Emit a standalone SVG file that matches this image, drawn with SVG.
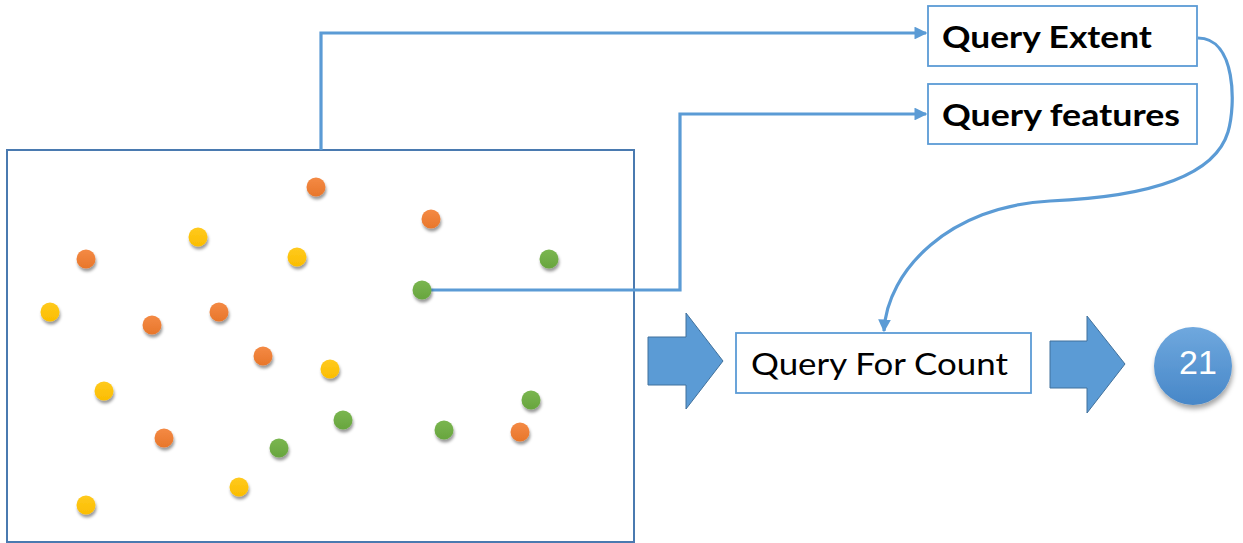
<svg xmlns="http://www.w3.org/2000/svg" width="1243" height="543" viewBox="0 0 1243 543">
  <style>
    .frame { fill: #ffffff; stroke: #4a7ab0; stroke-width: 2; }
    .box { fill: #ffffff; stroke: #5b9bd5; stroke-width: 1.8; }
    .label { font-family: Lato, "Liberation Sans", sans-serif; font-size: 30px; fill: #000000; }
    .bold { font-weight: bold; }
    .link { fill: none; stroke: #5b9bd5; stroke-width: 3.2; }
    .block { fill: #5b9bd5; stroke: #41719c; stroke-width: 1; }
    .dot { filter: url(#dotShadow); }
    .o { fill: url(#gOrange); }
    .y { fill: url(#gYellow); }
    .g { fill: url(#gGreen); }
  </style>
  <defs>
    <linearGradient id="gOrange" x1="0" y1="0" x2="0" y2="1">
      <stop offset="0" stop-color="#f48a45"/>
      <stop offset="1" stop-color="#e8762a"/>
    </linearGradient>
    <linearGradient id="gYellow" x1="0" y1="0" x2="0" y2="1">
      <stop offset="0" stop-color="#ffca1e"/>
      <stop offset="1" stop-color="#fbbd00"/>
    </linearGradient>
    <linearGradient id="gGreen" x1="0" y1="0" x2="0" y2="1">
      <stop offset="0" stop-color="#7ab650"/>
      <stop offset="1" stop-color="#68a53e"/>
    </linearGradient>
    <linearGradient id="gBall" x1="0" y1="0" x2="0" y2="1">
      <stop offset="0" stop-color="#6fa8de"/>
      <stop offset="1" stop-color="#4787c8"/>
    </linearGradient>
    <filter id="dotShadow" x="-50%" y="-50%" width="200%" height="200%">
      <feDropShadow dx="1" dy="3" stdDeviation="1.6" flood-color="#000000" flood-opacity="0.4"/>
    </filter>
    <filter id="ballShadow" x="-30%" y="-30%" width="160%" height="160%">
      <feDropShadow dx="1" dy="4" stdDeviation="2.5" flood-color="#000000" flood-opacity="0.35"/>
    </filter>
    <marker id="head" viewBox="0 0 10 10" refX="9" refY="5" markerWidth="4" markerHeight="4" orient="auto" markerUnits="strokeWidth">
      <path d="M0,0 L10,5 L0,10 Z" fill="#5b9bd5"/>
    </marker>
  </defs>

  <!-- map area with the point features -->
  <g id="map">
    <rect class="frame" x="7" y="150" width="627" height="392"/>
    <g id="points">
      <circle class="dot o" cx="316" cy="187" r="9.5"/>
      <circle class="dot o" cx="431" cy="219" r="9.5"/>
      <circle class="dot o" cx="86" cy="259" r="9.5"/>
      <circle class="dot o" cx="152" cy="325" r="9.5"/>
      <circle class="dot o" cx="219" cy="312" r="9.5"/>
      <circle class="dot o" cx="263" cy="356" r="9.5"/>
      <circle class="dot o" cx="164" cy="438" r="9.5"/>
      <circle class="dot o" cx="520" cy="432" r="9.5"/>
      <circle class="dot y" cx="198" cy="237" r="9.5"/>
      <circle class="dot y" cx="297" cy="257" r="9.5"/>
      <circle class="dot y" cx="50" cy="312" r="9.5"/>
      <circle class="dot y" cx="104" cy="391" r="9.5"/>
      <circle class="dot y" cx="330" cy="369" r="9.5"/>
      <circle class="dot y" cx="239" cy="487" r="9.5"/>
      <circle class="dot y" cx="86" cy="505" r="9.5"/>
      <circle class="dot g" cx="549" cy="259" r="9.5"/>
      <circle class="dot g" cx="531" cy="400" r="9.5"/>
      <circle class="dot g" cx="343" cy="420" r="9.5"/>
      <circle class="dot g" cx="444" cy="430" r="9.5"/>
      <circle class="dot g" cx="279" cy="448" r="9.5"/>
    </g>
  </g>

  <g id="connectors">
    <path class="link" d="M321,150 V33 H926" marker-end="url(#head)"/>
    <path class="link" d="M431,290 H680 V114 H926" marker-end="url(#head)"/>
    <path class="link" d="M1198,38 C1236,38 1236,105 1228,132 C1212,185 1120,198 1050,201 C950,206 887,270 884,331" marker-end="url(#head)"/>
  </g>

  <!-- green point joined to the features query (drawn above the line) -->
  <g id="selected-point">
    <circle class="dot g" cx="422" cy="290" r="9.5"/>
  </g>

  <g id="query-extent">
    <rect class="box" x="928" y="6" width="269" height="60"/>
    <text class="label bold" x="942" y="48" textLength="210" lengthAdjust="spacingAndGlyphs">Query Extent</text>
  </g>

  <g id="query-features">
    <rect class="box" x="928" y="84" width="269" height="60"/>
    <text class="label bold" x="942" y="126" textLength="238" lengthAdjust="spacingAndGlyphs">Query features</text>
  </g>

  <g id="arrow-in">
    <path class="block" d="M648,337 H686 V313 L723,361 L686,409 V385 H648 Z"/>
  </g>

  <g id="query-count">
    <rect class="box" x="736" y="333" width="295" height="60"/>
    <text class="label" x="751" y="375" textLength="257" lengthAdjust="spacingAndGlyphs">Query For Count</text>
  </g>

  <g id="arrow-out">
    <path class="block" d="M1050,341 H1087 V316 L1125,364 L1087,413 V388 H1050 Z"/>
  </g>

  <g id="result">
    <circle cx="1193" cy="366" r="39" fill="url(#gBall)" filter="url(#ballShadow)"/>
    <text x="1198" y="374" text-anchor="middle" font-family="'Liberation Sans', Arial, sans-serif" font-size="34" fill="#ffffff">21</text>
  </g>
</svg>
